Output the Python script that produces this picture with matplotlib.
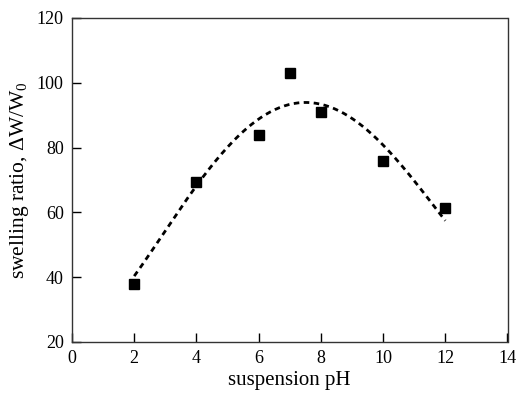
import numpy as np
import matplotlib
matplotlib.use("Agg")
import matplotlib.pyplot as plt

plt.rcParams['font.family'] = ['Liberation Serif', 'DejaVu Serif']
plt.rcParams['mathtext.fontset'] = 'custom'
plt.rcParams['mathtext.rm'] = 'Liberation Serif'
plt.rcParams['mathtext.it'] = 'Liberation Serif'

# measured data
ph = [2, 4, 6, 7, 8, 10, 12]
swelling = [38, 69.5, 84, 103, 91, 76, 61.5]

# dashed trend curve
curve_x = [2, 3, 4, 5, 6, 7, 7.5, 8, 9, 10, 11, 12]
curve_y = [40, 55, 68.5, 79.5, 88, 93.5, 94.5, 94, 89, 80, 70, 57.5]

xticks = [0, 2, 4, 6, 8, 10, 12, 14]
yticks = [20, 40, 60, 80, 100, 120]

fig = plt.figure(figsize=(5.17, 3.95), dpi=100)
ax = fig.add_axes([72/517, 1-342/395, (507.5-72)/517, (342-18)/395])

coef = np.polyfit(curve_x, curve_y, 4)
xs = np.linspace(2, 12, 200)
ax.plot(xs, np.polyval(coef, xs), color='black', linestyle=(0, (2, 1.6)), linewidth=2)
ax.plot(ph, swelling, linestyle='none', marker='s', markersize=7.5, color='black')

ax.set_xlim(0, 14)
ax.set_ylim(20, 120)
ax.set_xticks(xticks)
ax.set_yticks(yticks)
ax.tick_params(direction='in', length=6.5, width=1, labelsize=13, top=False, right=False, pad=6)
for s in ax.spines.values():
    s.set_linewidth(1)
    s.set_color('#333333')
ax.set_xlabel('suspension pH', fontsize=15, labelpad=3)
ax.set_ylabel('swelling ratio, ΔW/W$_0$', fontsize=15.5, labelpad=4)

fig.savefig('out.png', dpi=100)
